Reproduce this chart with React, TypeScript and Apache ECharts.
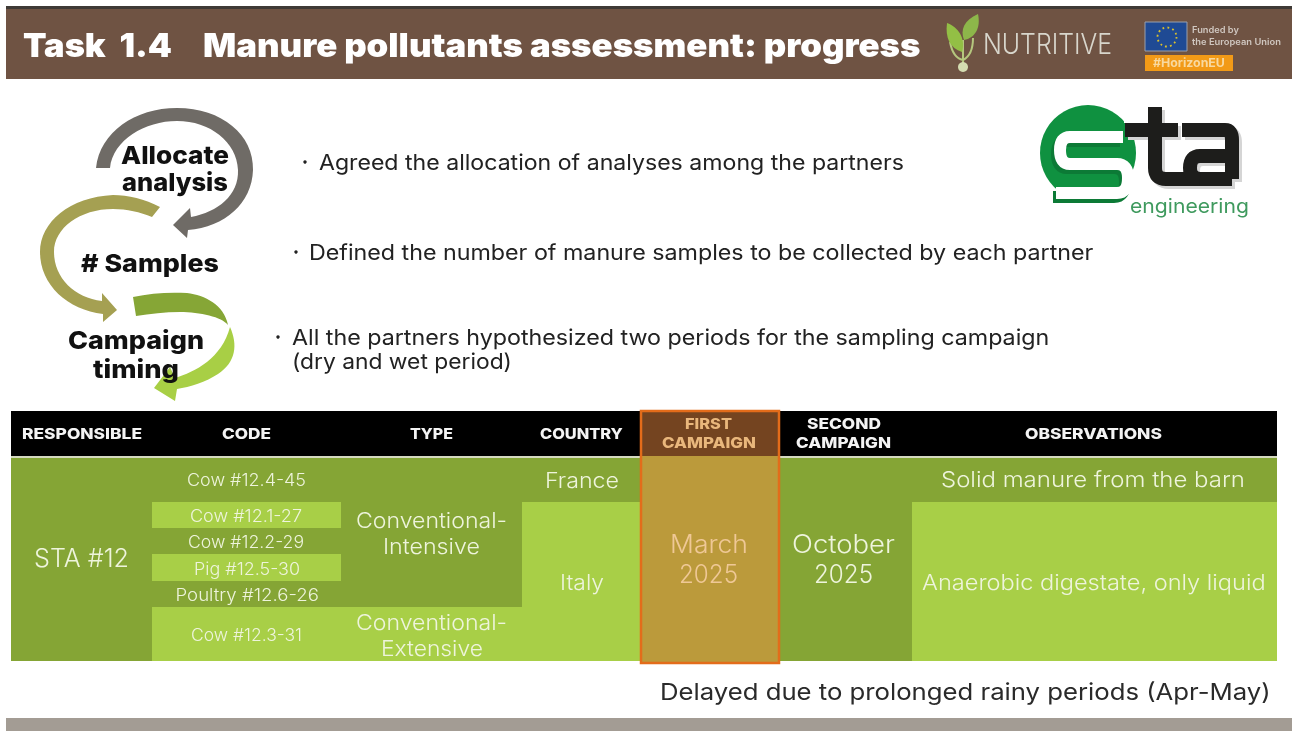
import React, { useEffect, useRef } from "react";
import * as echarts from "echarts";

const titleParts = ["Task  1.4", "Manure pollutants assessment: progress"];
const bullets = [
  "Agreed the allocation of analyses among the partners",
  "Defined the number of manure samples to be collected by each partner",
  "All the partners hypothesized two periods for the sampling campaign",
  "(dry and wet period)",
];
const cycleLabels = ["Allocate", "analysis", "# Samples", "Campaign", "timing"];
const headers = ["RESPONSIBLE", "CODE", "TYPE", "COUNTRY", "FIRST", "CAMPAIGN", "SECOND", "CAMPAIGN", "OBSERVATIONS"];
const codes = ["Cow #12.4-45", "Cow #12.1-27", "Cow #12.2-29", "Pig #12.5-30", "Poultry #12.6-26", "Cow #12.3-31"];
const types = ["Conventional-", "Intensive", "Conventional-", "Extensive"];
const countries = ["France", "Italy"];
const responsible = "STA #12";
const firstCampaign = ["March", "2025"];
const secondCampaign = ["October", "2025"];
const observations = ["Solid manure from the barn", "Anaerobic digestate, only liquid"];
const note = "Delayed due to prolonged rainy periods (Apr-May)";

const FONT = "Inter, 'Noto Sans', sans-serif";
const ctx = document.createElement("canvas").getContext("2d")!;

function fit(text: string, x0: number, x1: number, y: number, size: number, weight: number, fill: string, family = FONT) {
  ctx.font = `${weight} ${size}px ${family}`;
  const w = ctx.measureText(text).width || 1;
  return {
    type: "text",
    x: x0,
    y,
    scaleX: (x1 - x0) / w,
    style: { text, fontSize: size, fontWeight: weight, fontFamily: family, fill, align: "left", verticalAlign: "middle" },
  };
}
const rect = (x0: number, y0: number, x1: number, y1: number, fill: string, extra: any = {}) => ({
  type: "rect",
  shape: { x: x0, y: y0, width: x1 - x0, height: y1 - y0 },
  style: { fill, ...extra },
});

const shapes: Record<string, string> = {
  arrowGray: "M96 168 C100 132 135 108 177 108 C222 108 254 135 253 170 C252 203 225 227 188 230 L187 238 L173 225 L190 208 L191 217 C218 212 239 195 238 170 C237 142 210 121 177 121 C145 121 113 140 110 168 Z",
  arrowOlive: "M160 207 C145 199 128 195 113 195 C70 197 40 222 40 252 C40 285 68 310 103 314 L103 322 L117 310 L102 293 L102 301 C75 298 54 278 54 252 C54 228 80 209 113 209 C127 209 140 212 152 217 Z",
  arrowDark: "M133 297 C150 293 170 292 187 293 C205 295 224 305 228 325 C222 317 200 312 180 312 C165 312 150 314 136 316 Z",
  arrowLight: "M230 327 C238 345 236 362 218 374 C206 382 190 387 177 389 L175 401 L154 388 L170 367 L175 378 C195 372 222 358 230 327 Z",
  leafLeft: "M947 23 C945 38 950 48 962 52 C966 38 958 27 947 23 Z",
  leafRight: "M978 14 C964 20 960 30 964 40 C975 38 981 28 978 14 Z",
  stem: "M950 42 Q953 58 963 60 Q973 55 973 38 M963 40 L963 66",
  staS: "M1123 137 L1070 137 Q1060 137 1060 150 Q1060 164 1070 164 L1117 164 Q1128 164 1128 178 Q1128 193 1117 193 L1056 193",
  staT: "M1155 107 L1155 168 Q1155 179 1166 179 L1232 179 M1125 130 L1178 130",
  staA: "M1182 130 L1225 130 Q1232 130 1232 140 L1232 179 M1225 156 L1200 156 Q1190 156 1190 168 Q1190 178 1200 179",
};
Object.entries(shapes).forEach(([k, d]) => echarts.graphic.registerShape(k, echarts.graphic.extendPath(d, {})));

const DARK = "#85a535";
const LIGHT = "#a8cf47";
const CELL = "#eef4dc";

function build() {
  const els: any[] = [];
  // frame
  els.push(rect(6, 6, 1292, 9, "#3f3a36"));
  els.push(rect(6, 9, 1292, 79, "#6f5343"));
  els.push(rect(6, 718, 1292, 731, "#a39c94"));
  els.push(fit(titleParts[0], 23, 172, 45, 33, 900, "#ffffff"));
  els.push(fit(titleParts[1], 203, 921, 45, 33, 900, "#ffffff"));
  // project logo
  els.push({ type: "stem", style: { fill: "none", stroke: "#b5c77e", lineWidth: 2 } });
  els.push({ type: "leafLeft", style: { fill: "#93bf45" } });
  els.push({ type: "leafRight", style: { fill: "#8db64a" } });
  els.push({ type: "circle", shape: { cx: 963, cy: 67, r: 5 }, style: { fill: "#d5dcb0" } });
  els.push(fit("NUTRITIVE", 983, 1112, 43, 28, 300, "#d8d6cc"));
  // funding logo
  els.push(rect(1145, 22, 1187, 51, "#1f4a94", { stroke: "#9aa0ad", lineWidth: 1 }));
  els.push({ type: "circle", shape: { cx: 1167, cy: 37, r: 9.5 }, style: { fill: "none", stroke: "#d9c02e", lineWidth: 1.8, lineDash: [1.8, 3.17] } });
  els.push(fit("Funded by", 1192, 1239, 30, 9, 600, "#cfc6bf"));
  els.push(fit("the European Union", 1192, 1281, 42, 9, 600, "#cfc6bf"));
  els.push(rect(1145, 55, 1233, 71, "#f29a17"));
  els.push(fit("#HorizonEU", 1153, 1225, 63, 12, 700, "#f8d9a0"));
  // cycle
  els.push({ type: "arrowGray", style: { fill: "#6f6b66" } });
  els.push({ type: "arrowOlive", style: { fill: "#a5a052" } });
  els.push({ type: "arrowDark", style: { fill: "#86a636" } });
  els.push({ type: "arrowLight", style: { fill: "#a8cf45" } });
  els.push(fit(cycleLabels[0], 121, 229, 155, 25, 800, "#111111"));
  els.push(fit(cycleLabels[1], 122, 228, 182, 25, 800, "#111111"));
  els.push(fit(cycleLabels[2], 81, 219, 263, 25, 800, "#111111"));
  els.push(fit(cycleLabels[3], 68, 204, 340, 25, 800, "#111111"));
  els.push(fit(cycleLabels[4], 93, 179, 369, 25, 800, "#111111"));
  // bullets
  [[305, 162], [296, 252], [278, 337]].forEach(([cx, cy]) =>
    els.push({ type: "circle", shape: { cx, cy, r: 1.7 }, style: { fill: "#222222" } })
  );
  els.push(fit(bullets[0], 319, 904, 162, 21.5, 400, "#222222"));
  els.push(fit(bullets[1], 309, 1094, 252, 21.5, 400, "#222222"));
  els.push(fit(bullets[2], 292, 1050, 337, 21.5, 400, "#222222"));
  els.push(fit(bullets[3], 292, 512, 361, 21.5, 400, "#222222"));
  // company logo
  els.push({ type: "circle", shape: { cx: 1088, cy: 153, r: 48 }, style: { fill: "#0f9140" } });
  els.push(rect(1124, 100, 1150, 123, "#ffffff"));
  els.push({ type: "staS", x: -3, y: 4, style: { fill: "none", stroke: "#0c7a36", lineWidth: 12 } });
  els.push({ type: "staS", style: { fill: "none", stroke: "#ffffff", lineWidth: 12 } });
  els.push({ type: "staT", x: 3, y: 3, style: { fill: "none", stroke: "#d5d5d5", lineWidth: 14 } });
  els.push({ type: "staA", x: 3, y: 3, style: { fill: "none", stroke: "#d5d5d5", lineWidth: 14 } });
  els.push({ type: "staT", style: { fill: "none", stroke: "#1d1d1b", lineWidth: 14 } });
  els.push({ type: "staA", style: { fill: "none", stroke: "#1d1d1b", lineWidth: 14 } });
  els.push(fit("engineering", 1130, 1249, 206, 20, 400, "#3f9a5e"));
  // table
  els.push(rect(11, 411, 1277, 456, "#000000"));
  els.push(rect(11, 456, 1277, 458, "#d5d9c0"));
  els.push(rect(11, 458, 1277, 661, DARK));
  els.push(rect(152, 502, 341, 528, LIGHT));
  els.push(rect(152, 554, 341, 581, LIGHT));
  els.push(rect(152, 607, 522, 661, LIGHT));
  els.push(rect(522, 502, 641, 661, LIGHT));
  els.push(rect(912, 502, 1277, 661, LIGHT));
  const H = "#f4f4f4";
  els.push(fit(headers[0], 22, 142, 433.5, 14.5, 800, H));
  els.push(fit(headers[1], 222, 271, 433.5, 14.5, 800, H));
  els.push(fit(headers[2], 410, 453, 433.5, 14.5, 800, H));
  els.push(fit(headers[3], 540, 623, 433.5, 14.5, 800, H));
  els.push(fit(headers[6], 807, 881, 424, 14.5, 800, H));
  els.push(fit(headers[7], 796, 891, 443, 14.5, 800, H));
  els.push(fit(headers[8], 1025, 1162, 433.5, 14.5, 800, H));
  els.push(fit(responsible, 34, 129, 558.5, 25, 300, CELL));
  els.push(fit(codes[0], 187, 306, 480, 17, 300, CELL));
  els.push(fit(codes[1], 190, 302, 516, 17, 300, CELL));
  els.push(fit(codes[2], 188, 304, 542, 17, 300, CELL));
  els.push(fit(codes[3], 194, 300, 569, 17, 300, CELL));
  els.push(fit(codes[4], 175.5, 319, 595, 17, 300, CELL));
  els.push(fit(codes[5], 191, 302, 635, 17, 300, CELL));
  els.push(fit(types[0], 356, 507, 520, 22, 300, CELL));
  els.push(fit(types[1], 383, 480, 546, 22, 300, CELL));
  els.push(fit(types[2], 356, 507, 622, 22, 300, CELL));
  els.push(fit(types[3], 381, 483, 648, 22, 300, CELL));
  els.push(fit(countries[0], 545, 619, 480, 21, 300, CELL));
  els.push(fit(countries[1], 560, 604, 582.5, 21, 300, CELL));
  els.push(fit(secondCampaign[0], 792, 895, 544, 25, 300, CELL));
  els.push(fit(secondCampaign[1], 814, 873, 574, 25, 300, CELL));
  els.push(fit(observations[0], 941, 1245, 479, 22, 300, CELL));
  els.push(fit(observations[1], 922, 1266, 582, 22, 300, CELL));
  // highlighted first campaign column
  els.push(rect(641, 411, 779, 456, "#744420"));
  els.push(rect(641, 456, 779, 663, "#bb9a3b"));
  els.push(rect(641, 411, 779, 663, "none", { stroke: "#e36c1a", lineWidth: 2.5 }));
  els.push(fit(headers[4], 685, 732, 424, 14.5, 800, "#e9b77c"));
  els.push(fit(headers[5], 662, 756, 443, 14.5, 800, "#e9b77c"));
  els.push(fit(firstCampaign[0], 670, 748, 544, 25, 300, "#efc896"));
  els.push(fit(firstCampaign[1], 679, 738, 574, 25, 300, "#efc896"));
  els.push(fit(note, 660, 1271, 692, 23, 400, "#2a2a2a"));
  return els;
}

export default function App() {
  const ref = useRef<HTMLDivElement>(null);
  useEffect(() => {
    document.body.style.margin = "0";
    const chart = echarts.init(ref.current!, null, { renderer: "svg" });
    chart.setOption({ animation: false, backgroundColor: "#ffffff", graphic: { elements: build() } });
    return () => chart.dispose();
  }, []);
  return <div ref={ref} style={{ width: 1292, height: 731, filter: "blur(0.7px)" }} />;
}
